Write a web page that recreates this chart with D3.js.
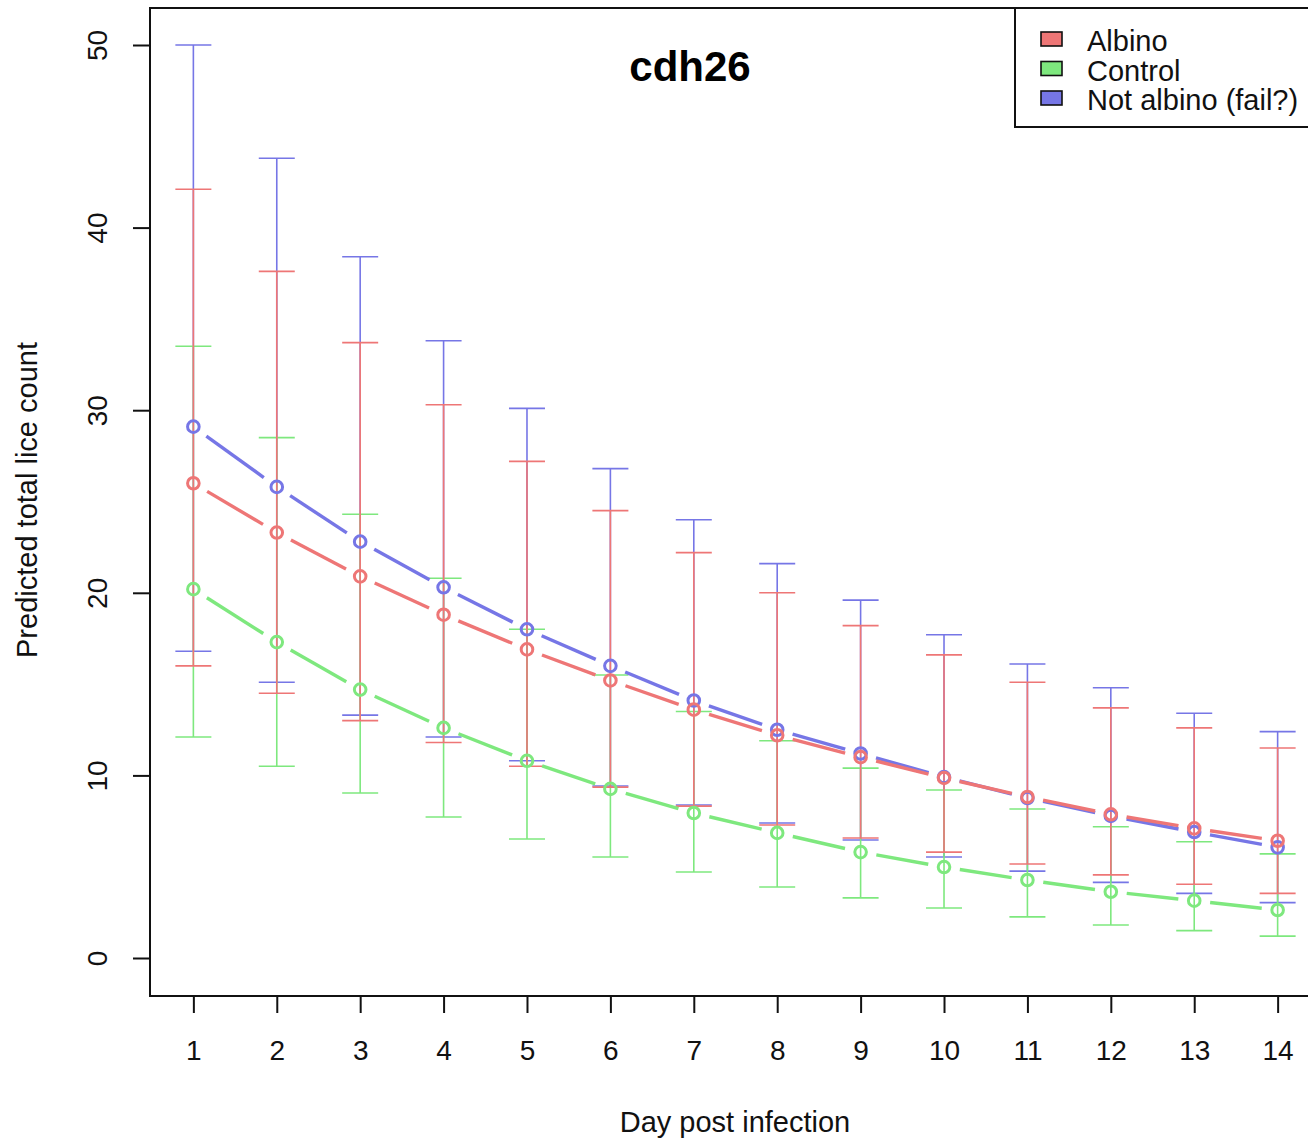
<!DOCTYPE html>
<html>
<head>
<meta charset="utf-8">
<script src="https://cdn.jsdelivr.net/npm/d3@7"></script>
<style>
  html, body { margin: 0; padding: 0; background: #fff; }
  svg { display: block; font-family: "Liberation Sans", Arial, sans-serif; }
</style>
</head>
<body>
<svg id="chart" width="1308" height="1139"></svg>
<script>
// Days post infection
const days = [1, 2, 3, 4, 5, 6, 7, 8, 9, 10, 11, 12, 13, 14];

// Predicted totals with lower / upper bounds, per group
const albinoMean  = [26.0, 23.3, 20.9, 18.8, 16.9, 15.2, 13.6, 12.2, 11.0, 9.86, 8.82, 7.87, 7.10, 6.42];
const albinoLow   = [16.0, 14.5, 13.0, 11.8, 10.5, 9.36, 8.32, 7.28, 6.57, 5.80, 5.15, 4.55, 4.04, 3.54];
const albinoHigh  = [42.1, 37.6, 33.7, 30.3, 27.2, 24.5, 22.2, 20.0, 18.2, 16.6, 15.1, 13.7, 12.6, 11.5];

const controlMean = [20.2, 17.3, 14.7, 12.6, 10.8, 9.26, 7.94, 6.85, 5.80, 4.98, 4.27, 3.63, 3.14, 2.63];
const controlLow  = [12.1, 10.5, 9.04, 7.72, 6.52, 5.53, 4.71, 3.89, 3.29, 2.74, 2.25, 1.81, 1.50, 1.20];
const controlHigh = [33.5, 28.5, 24.3, 20.8, 18.0, 15.5, 13.5, 11.9, 10.4, 9.20, 8.16, 7.19, 6.37, 5.70];

const notAlbMean  = [29.1, 25.8, 22.8, 20.3, 18.0, 16.0, 14.1, 12.5, 11.2, 9.91, 8.76, 7.78, 6.90, 6.06];
const notAlbLow   = [16.8, 15.1, 13.3, 12.1, 10.8, 9.42, 8.38, 7.39, 6.46, 5.53, 4.76, 4.14, 3.54, 3.03];
const notAlbHigh  = [50.0, 43.8, 38.4, 33.8, 30.1, 26.8, 24.0, 21.6, 19.6, 17.7, 16.1, 14.8, 13.4, 12.4];

const yTicks = [0, 10, 20, 30, 40, 50];

const groupNames  = ["Albino", "Control", "Not albino (fail?)"];
const groupColors = ["#ee7676", "#7ee87e", "#7676e6"];

const groups = [
  { name: groupNames[0], color: groupColors[0], mean: albinoMean,  low: albinoLow,  high: albinoHigh },
  { name: groupNames[1], color: groupColors[1], mean: controlMean, low: controlLow, high: controlHigh },
  { name: groupNames[2], color: groupColors[2], mean: notAlbMean,  low: notAlbLow,  high: notAlbHigh }
];

const svg = d3.select("#chart");
const plot = { left: 150, top: 8, right: 1321, bottom: 996 };

const x = d3.scaleLinear().domain([0.48, 14.52]).range([plot.left, plot.right]);
const y = d3.scaleLinear().domain([0, 50]).range([958, 45]);

// Error bars: blue, green, then red on top
const barOrder = [groups[2], groups[1], groups[0]];
const capHalf = 18;
barOrder.forEach(g => {
  const eb = svg.append("g").attr("stroke", g.color).attr("stroke-width", 1.6).attr("fill", "none");
  days.forEach((d, i) => {
    const cx = x(d);
    eb.append("line").attr("x1", cx).attr("x2", cx).attr("y1", y(g.low[i])).attr("y2", y(g.high[i]));
    eb.append("line").attr("x1", cx - capHalf).attr("x2", cx + capHalf).attr("y1", y(g.high[i])).attr("y2", y(g.high[i]));
    eb.append("line").attr("x1", cx - capHalf).attr("x2", cx + capHalf).attr("y1", y(g.low[i])).attr("y2", y(g.low[i]));
  });
});

// Points joined by line segments that stop short of each point
const gap = 16;
barOrder.forEach(g => {
  const lg = svg.append("g").attr("stroke", g.color).attr("fill", "none");
  for (let i = 0; i < days.length - 1; i++) {
    const x0 = x(days[i]), y0 = y(g.mean[i]);
    const x1 = x(days[i + 1]), y1 = y(g.mean[i + 1]);
    const len = Math.hypot(x1 - x0, y1 - y0);
    const ux = (x1 - x0) / len, uy = (y1 - y0) / len;
    lg.append("line")
      .attr("x1", x0 + ux * gap).attr("y1", y0 + uy * gap)
      .attr("x2", x1 - ux * gap).attr("y2", y1 - uy * gap)
      .attr("stroke-width", 3.4);
  }
  lg.selectAll("circle").data(days).join("circle")
    .attr("cx", d => x(d))
    .attr("cy", (d, i) => y(g.mean[i]))
    .attr("r", 5.8)
    .attr("stroke-width", 3);
});

// Plot frame
svg.append("rect")
  .attr("x", plot.left).attr("y", plot.top)
  .attr("width", plot.right - plot.left).attr("height", plot.bottom - plot.top)
  .attr("fill", "none").attr("stroke", "#111").attr("stroke-width", 2);

// X axis
const xAxis = svg.append("g").attr("transform", `translate(0,${plot.bottom})`)
  .call(d3.axisBottom(x).tickValues(days).tickSize(17).tickPadding(27).tickFormat(d3.format("d")));
xAxis.select(".domain").remove();
xAxis.selectAll(".tick line").attr("stroke", "#111").attr("stroke-width", 2);
xAxis.selectAll(".tick text").attr("fill", "#111").attr("font-size", 28)
  .attr("font-family", "Liberation Sans, Arial, sans-serif");

// Y axis with rotated labels
const yAxis = svg.append("g").attr("transform", `translate(${plot.left},0)`)
  .call(d3.axisLeft(y).tickValues(yTicks).tickSize(17).tickFormat(d3.format("d")));
yAxis.select(".domain").remove();
yAxis.selectAll(".tick line").attr("stroke", "#111").attr("stroke-width", 2);
yAxis.selectAll(".tick text")
  .attr("fill", "#111").attr("font-size", 28)
  .attr("font-family", "Liberation Sans, Arial, sans-serif")
  .attr("x", null).attr("dy", null)
  .attr("text-anchor", "middle")
  .attr("transform", "translate(-53,0) rotate(-90)")
  .attr("dominant-baseline", "central");

// Axis titles
svg.append("text")
  .attr("x", 735).attr("y", 1132)
  .attr("text-anchor", "middle").attr("font-size", 29).attr("fill", "#111")
  .text("Day post infection");

svg.append("text")
  .attr("transform", "translate(37,500) rotate(-90)")
  .attr("text-anchor", "middle").attr("font-size", 29).attr("fill", "#111")
  .text("Predicted total lice count");

// Title
svg.append("text")
  .attr("x", 690).attr("y", 81)
  .attr("text-anchor", "middle").attr("font-size", 42).attr("font-weight", "bold").attr("fill", "#000")
  .text("cdh26");

// Legend
const legend = svg.append("g");
legend.append("rect")
  .attr("x", 1015).attr("y", 8).attr("width", 320).attr("height", 119)
  .attr("fill", "#fff").attr("stroke", "#111").attr("stroke-width", 2);
groups.forEach((g, i) => {
  const cy = 39 + i * 29.5;
  legend.append("rect")
    .attr("x", 1041).attr("y", cy - 7).attr("width", 21).attr("height", 14)
    .attr("fill", g.color).attr("stroke", "#111").attr("stroke-width", 1.6);
  legend.append("text")
    .attr("x", 1087).attr("y", cy + 2).attr("dy", "0.36em")
    .attr("font-size", 29).attr("fill", "#111")
    .text(g.name);
});
</script>
</body>
</html>
